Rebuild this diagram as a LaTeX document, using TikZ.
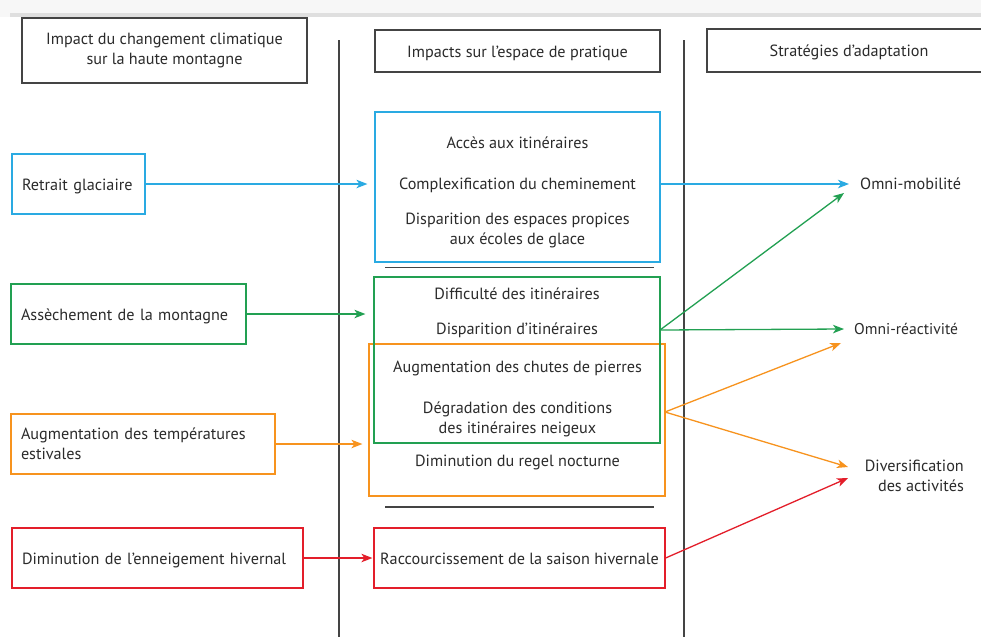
\documentclass[tikz,border=0pt]{standalone}
\usepackage{fontspec}
\setmainfont{PT Sans}
\usetikzlibrary{arrows.meta}
\definecolor{cblue}{HTML}{2AAAE2}
\definecolor{cgreen}{HTML}{22A052}
\definecolor{corange}{HTML}{F7931E}
\definecolor{cred}{HTML}{E31E2A}
\definecolor{ctxt}{HTML}{2B2B2B}
\definecolor{cline}{HTML}{444444}
\begin{document}
\begin{tikzpicture}[x=1pt,y=-1pt,
  font=\fontsize{16.2}{20}\selectfont, text=ctxt,
  box/.style={draw, line width=1.2pt, inner sep=0pt},
  lbox/.style={box, inner xsep=10pt, align=left},
  one/.style={text height=12pt, text depth=0pt},
  tl/.style={inner sep=0pt, text height=11.5pt, text depth=0pt},
  sep/.style={draw=cline, line width=1.3pt},
  arr/.style={line width=1.3pt, -{Stealth[length=11pt,width=8.5pt,inset=3pt]}}]
\useasboundingbox (0,0) rectangle (981,637);
\clip (0,0) rectangle (981,637);
\fill[white!97!black] (0,0) rectangle (981,637);
\fill[white] (0,17) rectangle (981,637);
\fill[gray!25] (10,12.5) rectangle (981,17);
% column separators
\draw[sep] (339,40) -- (339,637);
\draw[sep] (684,40) -- (684,637);
% headers
\node[box, draw=cline, minimum width=285pt, minimum height=65pt, align=center] (h1) at (164.5,50.5) {Impact du changement climatique\\sur la haute montagne};
\node[box, one, draw=cline, minimum width=285pt, minimum height=42pt] (h2) at (517.5,51) {Impacts sur l'espace de pratique};
\node[box, one, draw=cline, minimum width=284pt, minimum height=43pt] (h3) at (849,50.5) {Stratégies d'adaptation};
% left boxes
\node[lbox, one, draw=cblue, text width=113pt, minimum height=60pt] (ret) at (78.5,184) {Retrait glaciaire};
\node[lbox, one, draw=cgreen, text width=215pt, minimum height=60pt] (ass) at (128.5,314) {Assèchement de la montagne};
\node[lbox, draw=corange, text width=244pt, minimum height=60pt] (aug) at (143,444) {Augmentation des températures\\estivales};
\node[lbox, one, draw=cred, text width=271pt, minimum height=60pt] (dim) at (157.5,558) {Diminution de l'enneigement hivernal};
% middle boxes
\node[box, draw=cblue, minimum width=285pt, minimum height=150pt] (blueB) at (517.5,187) {};
\node[box, draw=corange, minimum width=296pt, minimum height=152pt] (orangeB) at (517,420) {};
\node[box, draw=cgreen, minimum width=286pt, minimum height=166pt] (greenB) at (517,360) {};
\node[box, one, draw=cred, minimum width=291pt, minimum height=60pt] (redB) at (519.5,558) {Raccourcissement de la saison hivernale};
\draw[sep] (385,267.5) -- (654,267.5);
\draw[sep] (385,507) -- (654,507);
% middle texts
\node[tl] (t1) at (517.5,143) {Accès aux itinéraires};
\node[tl] (t2) at (517.5,184) {Complexification du cheminement};
\node[tl] (t3) at (517.5,219) {Disparition des espaces propices};
\node[tl] (t4) at (517.5,239) {aux écoles de glace};
\node[tl] (t5) at (517,294) {Difficulté des itinéraires};
\node[tl] (t6) at (517,329) {Disparition d'itinéraires};
\node[tl] (t7) at (517.5,367) {Augmentation des chutes de pierres};
\node[tl] (t8) at (517.5,408) {Dégradation des conditions};
\node[tl] (t9) at (517.5,428) {des itinéraires neigeux};
\node[tl] (t10) at (517.5,461) {Diminution du regel nocturne};
% right labels
\node[tl, anchor=west] (mob) at (860,184) {Omni-mobilité};
\node[tl, anchor=west, font=\fontsize{15.6}{18}\selectfont] (rea) at (854,329) {Omni-réactivité};
\node[inner sep=0pt, anchor=east, align=right] (div) at (964,476) {Diversification\\des activités};
% coordinates
\coordinate (bR) at (660,184);
\coordinate (gR) at (660,330);
\coordinate (oR) at (665,412);
\coordinate (mobA) at (849,184);
\coordinate (mobB) at (844,193);
\coordinate (reaA) at (844,329);
\coordinate (reaB) at (841,343);
\coordinate (divA) at (848,467);
\coordinate (divB) at (848,478);
% left arrows
\draw[arr, cblue] (ret.east) -- ([xshift=-7pt]ret.east -| blueB.west);
\draw[arr, cgreen] (ass.east) -- ([xshift=-8pt]ass.east -| greenB.west);
\draw[arr, corange] (aug.east) -- ([xshift=-6pt]aug.east -| orangeB.west);
\draw[arr, cred] (dim.east) -- ([xshift=-1pt]dim.east -| redB.west);
% right arrows
\draw[arr, cblue] (bR) -- (mobA);
\draw[arr, cgreen] (gR) -- (mobB);
\draw[arr, cgreen] (gR) -- (reaA);
\draw[arr, corange] (oR) -- (reaB);
\draw[arr, corange] (oR) -- (divA);
\draw[arr, cred] (redB.east) -- (divB);
\end{tikzpicture}
\end{document}
